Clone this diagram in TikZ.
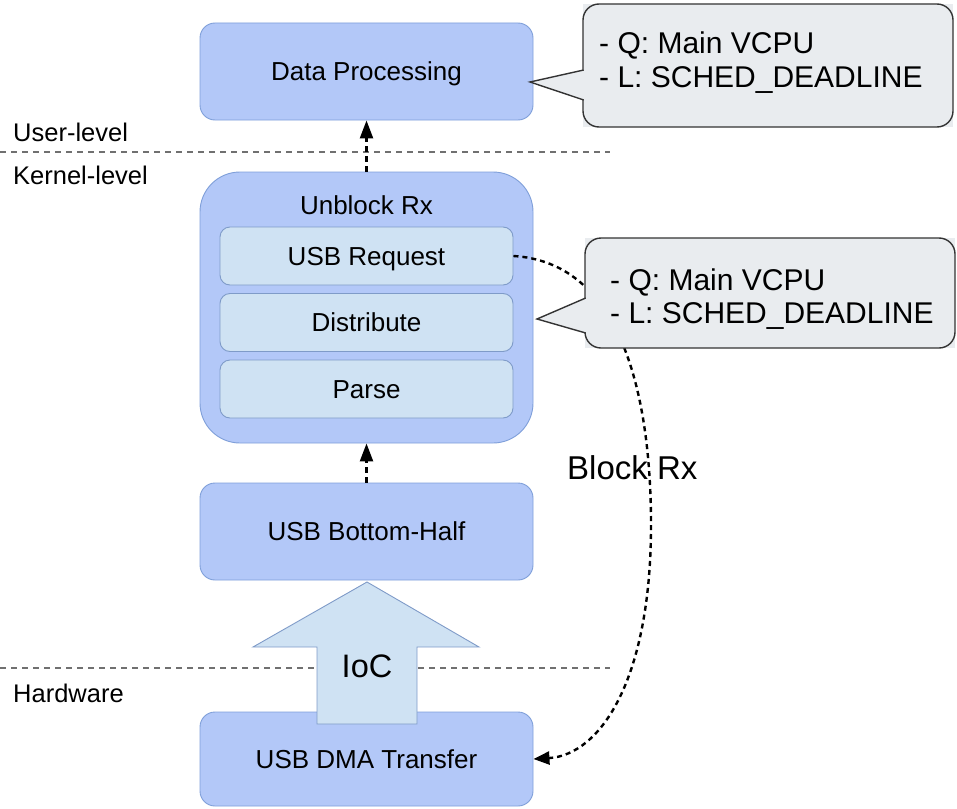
\documentclass[tikz,border=0pt]{standalone}
\usepackage{fontspec}
\setmainfont{Liberation Sans}
\usetikzlibrary{arrows.meta}

\definecolor{boxfill}{HTML}{B3C8F8}
\definecolor{boxline}{HTML}{7F9FD9}
\definecolor{subfill}{HTML}{CFE2F3}
\definecolor{subline}{HTML}{7F9BC8}
\definecolor{notefill}{HTML}{E9ECEF}
\definecolor{noteline}{HTML}{333333}
\definecolor{layerline}{HTML}{707070}

\tikzset{
  stagebox/.style={draw=boxline, fill=boxfill, line width=0.9pt,
    rounded corners=15pt, minimum width=333pt, inner sep=0pt,
    font=\fontsize{26}{30}\selectfont, text height=18pt, text depth=0pt},
  substage/.style={draw=subline, fill=subfill, line width=0.9pt,
    rounded corners=10pt, minimum width=293pt, minimum height=58pt, inner sep=0pt,
    font=\fontsize{26}{30}\selectfont, text height=18pt, text depth=0pt},
  layerlabel/.style={anchor=base west, inner sep=0pt, font=\fontsize{25.5}{30}\selectfont},
  layersep/.style={draw=layerline, line width=1.6pt, dash pattern=on 6pt off 5pt},
  flow/.style={line width=2.4pt, dash pattern=on 6pt off 4pt,
    -{Triangle[length=18pt,width=13pt]}},
  blockflow/.style={line width=2.4pt, dash pattern=on 5pt off 4pt,
    -{Triangle[length=16pt,width=13pt]}},
  note/.style={draw=noteline, fill=notefill, line width=1.4pt, rounded corners=16pt},
  notetext/.style={anchor=base west, inner sep=0pt, font=\fontsize{30}{34}\selectfont},
  bigtext/.style={inner sep=0pt, font=\fontsize{32.5}{36}\selectfont},
}

\begin{document}
\begin{tikzpicture}[x=1pt, y=-1pt]
\useasboundingbox (0,0) rectangle (957,808);

% layer separators
\coordinate (userL) at (0,152);
\coordinate (userR) at (610,152);
\coordinate (hwL) at (0,668);
\coordinate (hwR) at (610,668);
\draw[layersep] (userL) -- (userR);
\draw[layersep] (hwL) -- (hwR);

\node[layerlabel] (lbluser) at (13,141) {User-level};
\node[layerlabel] (lblkernel) at (13,184) {Kernel-level};
\node[layerlabel] (lblhw) at (13,702) {Hardware};

% processing stages
\node[stagebox, minimum height=97pt] (dataproc) at (366.5,71.5) {Data Processing};

\node[draw=boxline, fill=boxfill, line width=0.9pt, rounded corners=40pt,
      minimum width=333pt, minimum height=271pt, inner sep=0pt] (unblock) at (366.5,307.5) {};
\node[inner sep=0pt, font=\fontsize{26}{30}\selectfont, text height=18pt, text depth=0pt]
      (unblocktitle) at (366.5,205) {Unblock Rx};
\node[substage] (usbreq) at (366.5,256) {USB Request};
\node[substage] (distribute) at (366.5,322.5) {Distribute};
\node[substage] (parse) at (366.5,389) {Parse};

\node[stagebox, minimum height=97pt] (bottomhalf) at (366.5,531.5) {USB Bottom-Half};
\node[stagebox, minimum height=94pt] (dma) at (366.5,759) {USB DMA Transfer};

% interrupt-on-completion block arrow
\draw[draw=subline, fill=subfill, line width=0.9pt, line join=miter]
  (367,582) -- (479,647) -- (417,647) -- (417,724) -- (317,724) -- (317,647) -- (253,647) -- cycle;
\node[bigtext] (ioc) at (367,666) {IoC};

% control flow
\draw[flow] (unblock.north) -- (dataproc.south);
\draw[flow] (bottomhalf.north) -- (unblock.south);

% blocking path back to the DMA transfer
\coordinate (bend) at (651,520);
\draw[blockflow] (usbreq.east) .. controls (615,262) and (650,380) .. (bend)
  .. controls (652,680) and (600,755) .. (dma.east);
\node[anchor=base west, inner sep=0pt, font=\fontsize{33}{36}\selectfont] (blockrx) at (567,479) {Block Rx};

% scheduling notes
\fill[notefill] (583,4) rectangle (953,127);
\draw[note] (583,4) rectangle (953,127);
\fill[notefill] (587,69) -- (530,82) -- (587,101) -- cycle;
\draw[noteline, line width=1.4pt, line join=miter] (583.7,70) -- (530,82) -- (583.7,100);
\node[notetext] (n1q) at (599,53) {- Q: Main VCPU};
\node[notetext] (n1l) at (599,87) {- L: SCHED\_DEADLINE};

\fill[notefill] (585,238) rectangle (955,348);
\draw[note] (585,238) rectangle (955,348);
\fill[notefill] (589,297) -- (537,319) -- (589,334) -- cycle;
\draw[noteline, line width=1.4pt, line join=miter] (585.7,298) -- (537,319) -- (585.7,333);
\node[notetext] (n2q) at (610,290) {- Q: Main VCPU};
\node[notetext] (n2l) at (610,323) {- L: SCHED\_DEADLINE};
\end{tikzpicture}
\end{document}
